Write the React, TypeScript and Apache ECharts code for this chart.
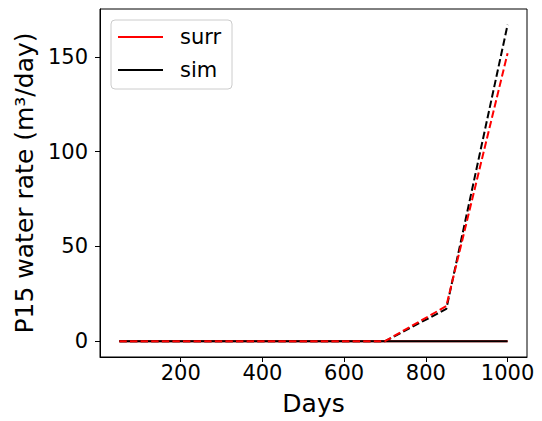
import React, { useEffect, useRef } from "react";
import * as echarts from "echarts";

const days = [50, 100, 200, 300, 400, 500, 600, 700, 850, 1000];
const surrSolid = [0, 0, 0, 0, 0, 0, 0, 0, 0, 0];
const simSolid = [0, 0, 0, 0, 0, 0, 0, 0, 0, 0];
const surrDashed = [0, 0, 0, 0, 0, 0, 0, 0, 18.5, 152];
const simDashed = [0, 0, 0, 0, 0, 0, 0, 0, 17, 167];
const xTicks = [200, 400, 600, 800, 1000];
const yTicks = [0, 50, 100, 150];
const legendNames = ["surr", "sim"];
const legendColors = ["#ff0000", "#000000"];

const FONT = "DejaVu Sans";

function pairs(xs: number[], ys: number[]) {
  return xs.map((x, i) => [x, ys[i]]);
}

export default function App() {
  const ref = useRef<HTMLDivElement>(null);
  useEffect(() => {
    document.body.style.margin = "0";
    const chart = echarts.init(ref.current!, null, { renderer: "svg" });
    const lineSeries = (name: string, data: number[], color: string, dashed: boolean) => ({
      type: "line",
      name,
      data: pairs(days, data),
      showSymbol: false,
      symbol: "none",
      lineStyle: { color, width: 2, type: dashed ? [7.4, 3.2] : "solid" },
      z: 2,
    });
    const legendGraphics: any[] = [
      {
        type: "rect",
        shape: { x: 111, y: 20, width: 121, height: 69, r: 4 },
        style: { fill: "rgba(255,255,255,0.8)", stroke: "#cccccc", lineWidth: 1 },
        z: 10,
      },
    ];
    legendNames.forEach((n, i) => {
      const y = 37 + i * 33;
      legendGraphics.push({
        type: "line",
        shape: { x1: 118, y1: y, x2: 163, y2: y },
        style: { stroke: legendColors[i], lineWidth: 2 },
        z: 11,
      });
      legendGraphics.push({
        type: "text",
        x: 180,
        y: y,
        style: { text: n, font: `21px '${FONT}'`, fill: "#000", verticalAlign: "middle", align: "left" },
        z: 11,
      });
    });
    const yMaxData = 167;
    const pad = yMaxData * 0.05;
    chart.setOption({
      animation: false,
      grid: {
        left: 100,
        right: 15,
        top: 9,
        bottom: 64,
        show: true,
        borderColor: "#000",
        borderWidth: 1,
        containLabel: false,
      },
      xAxis: {
        type: "value",
        min: 2.5,
        max: 1047.5,
        name: "Days",
        nameLocation: "middle",
        nameGap: 34,
        nameTextStyle: { fontFamily: FONT, fontSize: 25, color: "#000" },
        axisLine: { show: true, onZero: false, lineStyle: { color: "#000", width: 1 } },
        axisTick: { show: true, length: 5, customValues: xTicks, lineStyle: { color: "#000" } },
        axisLabel: {
          customValues: xTicks,
          formatter: (v: number) => String(v),
          fontFamily: FONT,
          fontSize: 21,
          color: "#000",
          margin: 5,
        },
        splitLine: { show: false },
      },
      yAxis: {
        type: "value",
        min: -pad,
        max: yMaxData + pad,
        name: "P15 water rate (m³/day)",
        nameLocation: "middle",
        nameGap: 63,
        nameTextStyle: { fontFamily: FONT, fontSize: 25, color: "#000" },
        axisLine: { show: true, onZero: false, lineStyle: { color: "#000", width: 1 } },
        axisTick: { show: true, length: 5, customValues: yTicks, lineStyle: { color: "#000" } },
        axisLabel: {
          customValues: yTicks,
          formatter: (v: number) => String(v),
          fontFamily: FONT,
          fontSize: 21,
          color: "#000",
          margin: 12,
        },
        splitLine: { show: false },
      },
      series: [
        lineSeries("surr", surrSolid, "#ff0000", false),
        lineSeries("sim", simSolid, "#000000", false),
        lineSeries("sim dashed", simDashed, "#000000", true),
        lineSeries("surr dashed", surrDashed, "#ff0000", true),
      ],
      graphic: legendGraphics,
    });
    return () => chart.dispose();
  }, []);
  return <div ref={ref} style={{ width: 542, height: 421 }} />;
}
